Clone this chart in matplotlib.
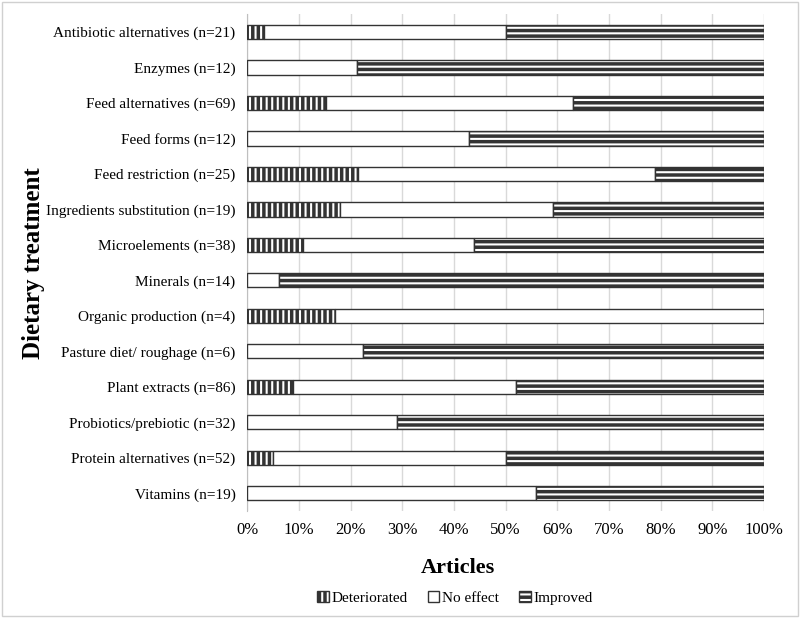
import matplotlib
matplotlib.use("Agg")
import matplotlib.pyplot as plt
import numpy as np

categories = [
    "Antibiotic alternatives (n=21)",
    "Enzymes (n=12)",
    "Feed alternatives (n=69)",
    "Feed forms (n=12)",
    "Feed restriction (n=25)",
    "Ingredients substitution (n=19)",
    "Microelements (n=38)",
    "Minerals (n=14)",
    "Organic production (n=4)",
    "Pasture diet/ roughage (n=6)",
    "Plant extracts (n=86)",
    "Probiotics/prebiotic (n=32)",
    "Protein alternatives (n=52)",
    "Vitamins (n=19)",
]
# shares in percent
deteriorated = [3.3, 0, 15.3, 0, 21.5, 17.9, 10.8, 0, 16.9, 0, 8.8, 0, 4.9, 0]
no_effect = [46.8, 21.2, 47.8, 42.9, 57.4, 41.2, 33.1, 6.1, 83.1, 22.4, 43.2, 29.0, 45.2, 55.8]
improved = [100 - d - n for d, n in zip(deteriorated, no_effect)]

plt.rcParams["font.family"] = ["Liberation Serif", "DejaVu Serif"]
plt.rcParams["hatch.linewidth"] = 2.5
plt.rcParams["hatch.color"] = "black"

fig = plt.figure(figsize=(8, 6.18), dpi=100)
ax = fig.add_axes([0.309, 0.173, 0.646, 0.804])

y = np.arange(len(categories))
h = 0.4
edge = "#333333"
ax.barh(y, deteriorated, height=h, color="white", edgecolor=edge, linewidth=1,
        hatch="|||", label="Deteriorated", zorder=3)
ax.barh(y, no_effect, left=deteriorated, height=h, color="white", edgecolor=edge,
        linewidth=1, label="No effect", zorder=3)
left2 = [d + n for d, n in zip(deteriorated, no_effect)]
ax.barh(y, improved, left=left2, height=h, color="white", edgecolor=edge,
        linewidth=1, hatch="---", label="Improved", zorder=3)

ax.set_xlim(0, 100)
ax.set_ylim(len(categories) - 0.5, -0.5)
ax.set_yticks(y)
ax.set_yticklabels(categories, fontsize=11)
ax.set_xticks(np.arange(0, 101, 10))
ax.set_xticklabels([f"{v}%" for v in range(0, 101, 10)], fontsize=12)
ax.tick_params(axis="y", length=0, pad=8.5)
ax.tick_params(axis="x", length=0, pad=8)
ax.grid(axis="x", color="#d9d9d9", linewidth=1, zorder=0)
for s in ["top", "right", "bottom"]:
    ax.spines[s].set_visible(False)
ax.spines["left"].set_color("#bfbfbf")

ax.set_ylabel("Dietary treatment", fontsize=18, fontweight="bold", labelpad=1)
fig.text(0.573, 0.081, "Articles", fontsize=16, fontweight="bold",
         ha="center", va="center")

handles, labels = ax.get_legend_handles_labels()
fig.legend(handles, labels, loc="center", bbox_to_anchor=(0.569, 0.032), ncol=3,
           frameon=False, fontsize=11, handlelength=0.75, handleheight=0.75,
           handletextpad=0.2, columnspacing=1.3)

fig.patches.append(plt.Rectangle((0.003, 0.003), 0.994, 0.994, transform=fig.transFigure,
                                 fill=False, edgecolor="#d0d0d0", linewidth=1))

fig.savefig("out.png", dpi=100)
